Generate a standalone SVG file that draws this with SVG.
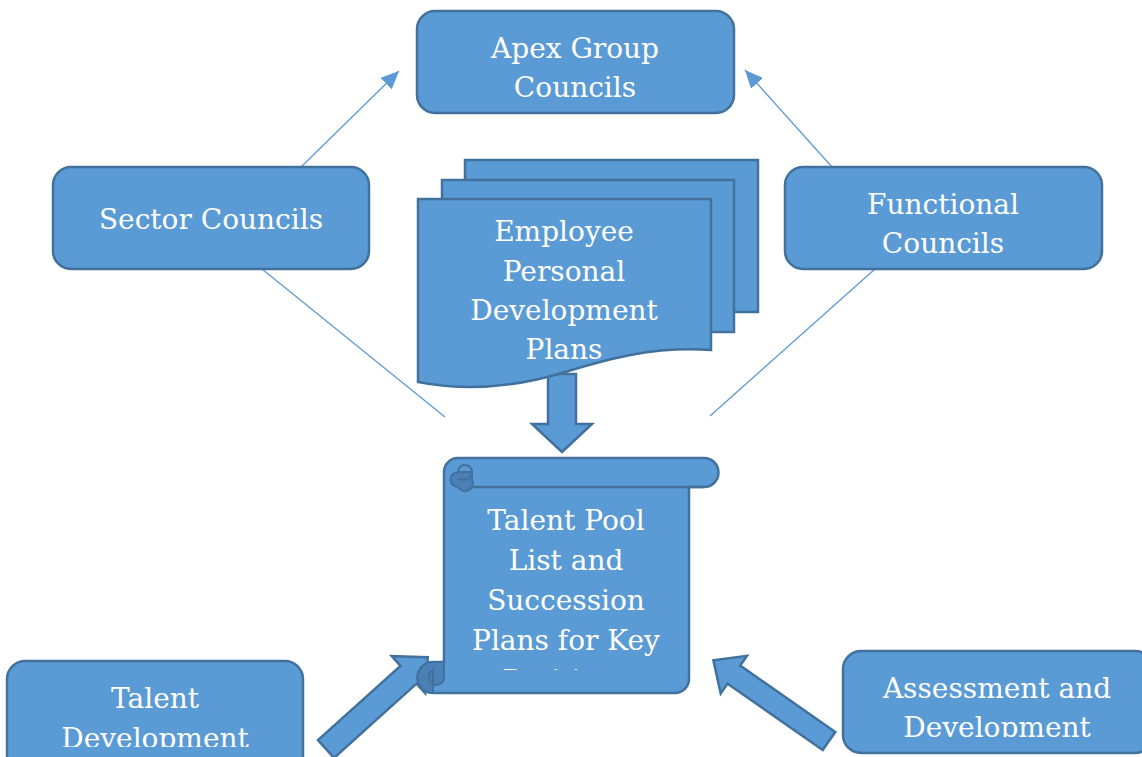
<svg xmlns="http://www.w3.org/2000/svg" width="1142" height="757" viewBox="0 0 1142 757">
<style>
.box{fill:#5B9BD5;stroke:#41719C;stroke-width:2.5}
.dark{fill:#4A80B6;stroke:#41719C;stroke-width:2}
.curl{fill:none;stroke:#41719C;stroke-width:2}
.t{font-family:"DejaVu Serif","Liberation Serif",serif;font-size:28px;fill:#FFFFFF;text-anchor:middle}
.ln{stroke:#5B9BD5;stroke-width:1.3;fill:none}
</style>
<defs>
<marker id="ah" markerUnits="userSpaceOnUse" markerWidth="20" markerHeight="16" refX="18" refY="8" orient="auto">
<path d="M0,0 L18,8 L0,16 Z" fill="#5B9BD5"/>
</marker>
<clipPath id="cScroll"><rect x="440" y="480" width="260" height="190"/></clipPath>
<clipPath id="cLeft"><rect x="0" y="660" width="310" height="87"/></clipPath>
<clipPath id="cRight"><rect x="840" y="650" width="302" height="87"/></clipPath>
</defs>

<g id="connectors">
<line class="ln" x1="301" y1="167" x2="399" y2="71" marker-end="url(#ah)"/>
<line class="ln" x1="832" y1="167" x2="745" y2="70" marker-end="url(#ah)"/>
<line class="ln" x1="262" y1="269" x2="445" y2="417"/>
<line class="ln" x1="875" y1="269" x2="710" y2="416"/>
<path class="box" d="M548,374 H576 V424 H592 L562,452 L532,424 H548 Z"/>
<polygon class="box" transform="translate(326,749) rotate(-42)" points="0,-12 111,-12 111,-25 137,0 111,25 111,12 0,12"/>
<polygon class="box" transform="translate(829,741) rotate(-145.1)" points="0,-11 116,-11 116,-23 141,0 116,23 116,11 0,11"/>
</g>

<g id="apex">
<rect class="box" x="417" y="11" width="317" height="102" rx="18"/>
<text class="t" x="575" y="58">Apex Group</text>
<text class="t" x="575" y="97">Councils</text>
</g>

<g id="sector">
<rect class="box" x="53" y="167" width="316" height="102" rx="18"/>
<text class="t" x="211" y="229">Sector Councils</text>
</g>

<g id="functional">
<rect class="box" x="785" y="167" width="317" height="102" rx="18"/>
<text class="t" x="943" y="214">Functional</text>
<text class="t" x="943" y="253">Councils</text>
</g>

<g id="employee-plans">
<rect class="box" x="465" y="160" width="293" height="152"/>
<rect class="box" x="442" y="180" width="292" height="152"/>
<path class="box" d="M418,199 H711 V350 C650,346 605,360 565,372 C520,386 470,392 418,382 Z"/>
<text class="t" x="564" y="241">Employee</text>
<text class="t" x="564" y="281">Personal</text>
<text class="t" x="564" y="320">Development</text>
<text class="t" x="564" y="359">Plans</text>
</g>

<g id="talent-pool">
<path class="box" d="M458,458 H704 A14.5,14.5 0 0 1 704,487 H689 V679 A14,14 0 0 1 675,693 H433 A15.5,15.5 0 0 1 433,662 H444 V472 A14,14 0 0 1 458,458 Z"/>
<path class="box" d="M458,487 H704"/>
<path class="dark" d="M458,487 A7.5,7.5 0 0 1 458,472 H472 V479.5 A7.5,7.5 0 0 1 458,487 Z"/>
<path class="curl" d="M458,472 A7,7 0 0 1 472,472 A7.5,7.5 0 0 1 464,479.5 H458"/>
<path class="dark" d="M433,693 A15.5,15.5 0 0 1 433,662 H444 V677 A7.5,7.5 0 0 1 436,685 A8,8 0 0 1 433,670 Z"/>
<g clip-path="url(#cScroll)">
<text class="t" x="566" y="530">Talent Pool</text>
<text class="t" x="566" y="570">List and</text>
<text class="t" x="566" y="610">Succession</text>
<text class="t" x="566" y="650">Plans for Key</text>
<text class="t" x="566" y="690">Positions</text>
</g>
</g>

<g id="talent-dev">
<rect class="box" x="7" y="661" width="296" height="120" rx="18"/>
<g clip-path="url(#cLeft)">
<text class="t" x="155" y="708">Talent</text>
<text class="t" x="155" y="748">Development</text>
</g>
</g>

<g id="assessment">
<rect class="box" x="843" y="651" width="310" height="102" rx="18"/>
<g clip-path="url(#cRight)">
<text class="t" x="997" y="698">Assessment and</text>
<text class="t" x="997" y="737">Development</text>
</g>
</g>
</svg>
